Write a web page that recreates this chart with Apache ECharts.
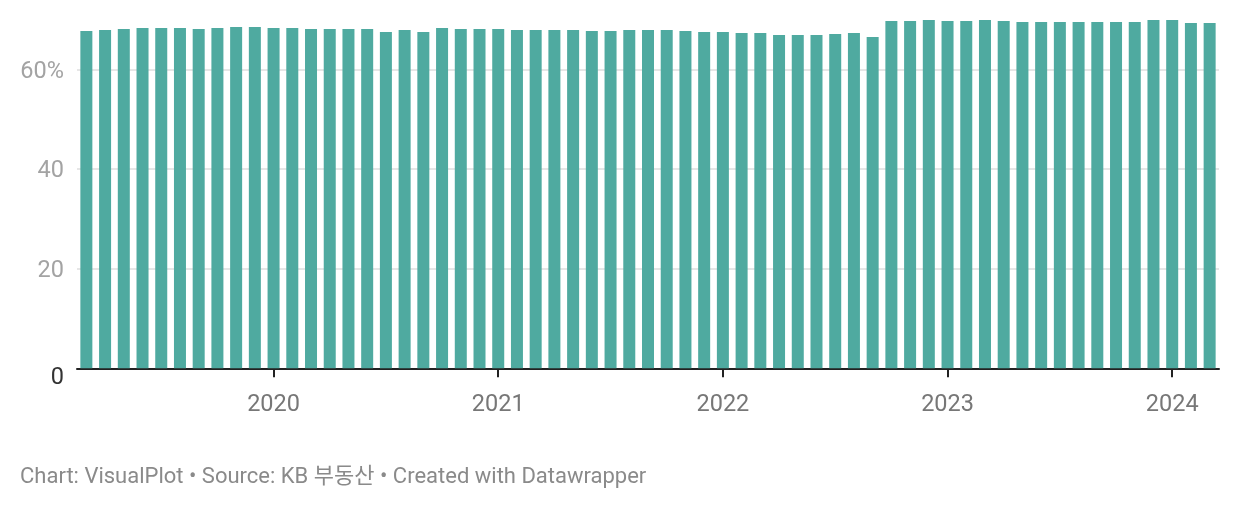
<!DOCTYPE html>
<html>
<head>
<meta charset="utf-8">
<script src="https://cdn.jsdelivr.net/npm/echarts@6/dist/echarts.min.js"></script>
<style>
  html, body { margin: 0; padding: 0; background: #fff; }
  #chart { width: 1240px; height: 510px; }
</style>
</head>
<body>
<div id="chart"></div>
<script>
// 월별 (2019-03 ~ 2024-03)
const months = [
  '2019-03', '2019-04', '2019-05', '2019-06', '2019-07', '2019-08', '2019-09', '2019-10', '2019-11', '2019-12',
  '2020-01', '2020-02', '2020-03', '2020-04', '2020-05', '2020-06', '2020-07', '2020-08', '2020-09', '2020-10', '2020-11', '2020-12',
  '2021-01', '2021-02', '2021-03', '2021-04', '2021-05', '2021-06', '2021-07', '2021-08', '2021-09', '2021-10', '2021-11', '2021-12',
  '2022-01', '2022-02', '2022-03', '2022-04', '2022-05', '2022-06', '2022-07', '2022-08', '2022-09', '2022-10', '2022-11', '2022-12',
  '2023-01', '2023-02', '2023-03', '2023-04', '2023-05', '2023-06', '2023-07', '2023-08', '2023-09', '2023-10', '2023-11', '2023-12',
  '2024-01', '2024-02', '2024-03'
]

const ratio = [
  67.7, 67.9, 68.1, 68.3, 68.3, 68.3, 68.1, 68.3, 68.5, 68.5,
  68.3, 68.3, 68.1, 68.1, 68.1, 68.1, 67.5, 67.9, 67.5, 68.3, 68.1, 68.1,
  68.1, 67.9, 67.9, 67.9, 67.9, 67.7, 67.7, 67.9, 67.9, 67.9, 67.7, 67.5,
  67.5, 67.3, 67.3, 66.9, 66.9, 66.9, 67.1, 67.3, 66.5, 69.7, 69.7, 69.9,
  69.7, 69.7, 69.9, 69.7, 69.5, 69.5, 69.5, 69.5, 69.5, 69.5, 69.5, 69.9,
  69.9, 69.3, 69.3
]

const yTicks = [0, 20, 40, 60]
const footer = 'Chart: VisualPlot • Source: KB 부동산 • Created with Datawrapper'

const FONT = 'Roboto, "Noto Sans CJK KR", sans-serif'
const isJan = (i, name) => name.slice(5) === '01'

const chart = echarts.init(document.getElementById('chart'), null, { renderer: 'canvas' })
chart.setOption({
  backgroundColor: '#fff',
  animation: false,
  textStyle: { fontFamily: FONT },
  title: {
    text: footer,
    left: 15,
    top: 461,
    textStyle: { fontFamily: FONT, fontSize: 22, fontWeight: 'normal', color: '#8a8a8a' }
  },
  grid: { left: 77, right: 21, top: 19.5, bottom: 141.7 },
  xAxis: {
    type: 'category',
    data: months,
    axisLine: { lineStyle: { color: '#222', width: 2 } },
    axisTick: { show: true, interval: isJan, alignWithLabel: true, length: 9, lineStyle: { color: '#222', width: 2 } },
    axisLabel: {
      interval: isJan,
      formatter: v => v.slice(0, 4),
      color: '#777',
      fontSize: 23.5,
      margin: 25,
      fontFamily: FONT
    }
  },
  yAxis: {
    type: 'value',
    min: 0, max: 70, interval: 20,
    axisLine: { show: false },
    axisTick: { show: false },
    splitLine: { showMaxLine: false, lineStyle: { color: '#e6e6e6', width: 2 } },
    axisLabel: {
      showMaxLabel: false,
      margin: 13,
      fontSize: 23.5,
      color: '#a3a3a3',
      fontFamily: FONT,
      formatter: v => {
        if (!yTicks.includes(v)) return ''
        if (v === 0) return '{z|0}'
        return '{n|' + (v === 60 ? '60%' : String(v)) + '}'
      },
      rich: {
        n: { color: '#a3a3a3', fontSize: 23.5, fontFamily: FONT, padding: [5, 0, 0, 0] },
        z: { color: '#333', fontSize: 23.5, fontFamily: FONT, padding: [20, 0, 0, 0] }
      }
    }
  },
  series: [{
    type: 'bar',
    data: ratio,
    barWidth: 12,
    itemStyle: { color: '#4faaa0' }
  }]
})
</script>
</body>
</html>
